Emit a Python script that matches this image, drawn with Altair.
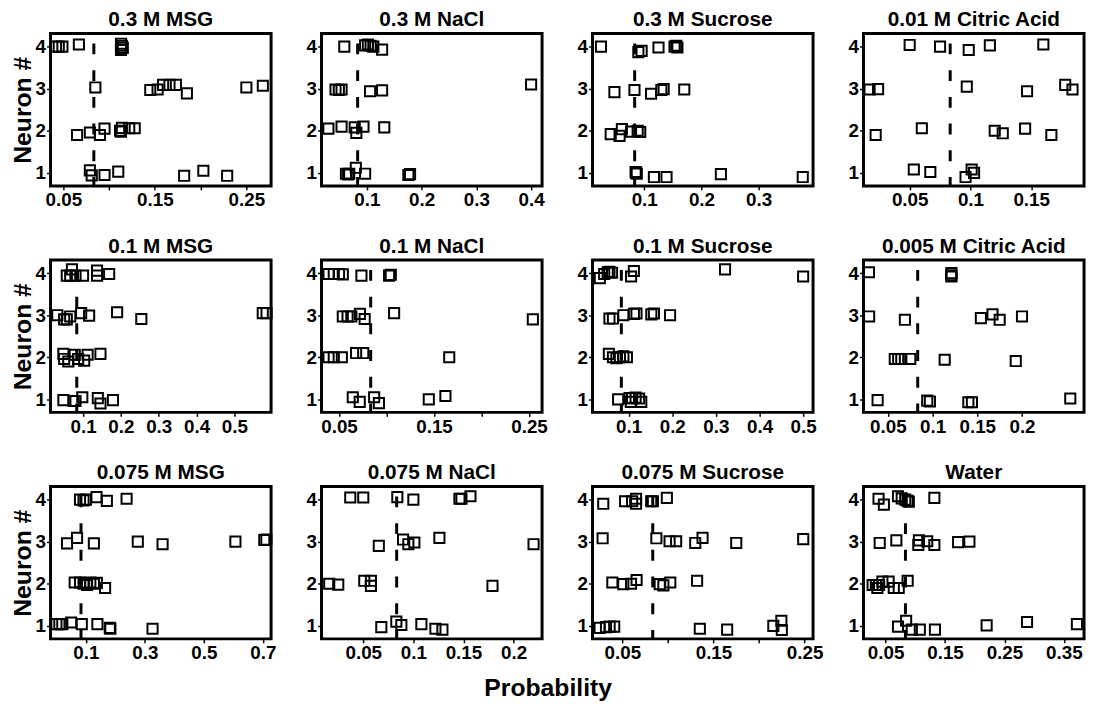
import altair as alt
import pandas as pd

FONT = "Liberation Sans"
CHANCE = [1 / 12]

titles = ["0.3 M MSG", "0.3 M NaCl", "0.3 M Sucrose", "0.01 M Citric Acid",
          "0.1 M MSG", "0.1 M NaCl", "0.1 M Sucrose", "0.005 M Citric Acid",
          "0.075 M MSG", "0.075 M NaCl", "0.075 M Sucrose", "Water"]

# ---- 0.3 M MSG
msg03_x = [0.042, 0.045, 0.049, 0.067, 0.113, 0.114, 0.115, 0.113,
           0.085, 0.145, 0.153, 0.159, 0.166, 0.173, 0.185, 0.250, 0.268,
           0.065, 0.079, 0.090, 0.095, 0.112, 0.113, 0.114, 0.122, 0.128,
           0.079, 0.081, 0.095, 0.110, 0.182, 0.203, 0.229]
msg03_y = [4.0, 4.0, 4.0, 4.05, 4.07, 4.02, 3.97, 3.92,
           3.03, 2.97, 2.98, 3.09, 3.09, 3.09, 2.89, 3.03, 3.07,
           1.90, 1.96, 1.90, 2.05, 2.00, 1.98, 2.07, 2.06, 2.06,
           1.06, 0.94, 0.95, 1.03, 0.93, 1.05, 0.93]
# ---- 0.3 M NaCl
nacl03_x = [0.059, 0.097, 0.102, 0.107, 0.112, 0.128,
            0.043, 0.049, 0.054, 0.106, 0.128, 0.400,
            0.030, 0.054, 0.078, 0.081, 0.094, 0.132,
            0.062, 0.066, 0.068, 0.080, 0.097, 0.176, 0.179]
nacl03_y = [4.0, 4.03, 4.05, 4.02, 4.0, 3.93,
            2.98, 2.97, 2.98, 2.94, 2.96, 3.10,
            2.05, 2.10, 2.08, 1.95, 2.10, 2.08,
            0.98, 0.96, 0.98, 1.12, 0.98, 0.95, 0.97]
# ---- 0.3 M Sucrose
suc03_x = [0.0245, 0.0898, 0.0955, 0.125, 0.153, 0.156, 0.158,
           0.048, 0.083, 0.112, 0.130, 0.134, 0.170,
           0.0415, 0.057, 0.061, 0.077, 0.0886, 0.093,
           0.085, 0.086, 0.087, 0.117, 0.139, 0.234, 0.377]
suc03_y = [4.0, 3.87, 3.90, 3.98, 4.0, 4.02, 3.98,
           2.92, 2.97, 2.88, 2.97, 2.99, 2.98,
           1.92, 1.88, 2.04, 1.98, 2.0, 1.97,
           1.02, 1.0, 0.98, 0.90, 0.90, 0.97, 0.90]
# ---- 0.01 M Citric Acid
cit01_x = [0.050, 0.075, 0.0986, 0.116, 0.160,
           0.017, 0.024, 0.097, 0.1466, 0.178, 0.184,
           0.022, 0.060, 0.120, 0.1266, 0.145, 0.1666,
           0.0534, 0.067, 0.096, 0.101, 0.103]
cit01_y = [4.04, 4.0, 3.92, 4.03, 4.05,
           2.98, 2.99, 3.05, 2.94, 3.09, 2.98,
           1.90, 2.06, 2.0, 1.94, 2.05, 1.90,
           1.08, 1.02, 0.90, 1.08, 1.0]
# ---- 0.1 M MSG
msg01_x = [0.0706, 0.057, 0.066, 0.080, 0.100, 0.137, 0.137, 0.169,
           0.032, 0.050, 0.057, 0.066, 0.095, 0.116, 0.190, 0.254, 0.575, 0.585,
           0.048, 0.050, 0.061, 0.078, 0.087, 0.103, 0.112, 0.146,
           0.048, 0.075, 0.080, 0.098, 0.139, 0.146, 0.179]
msg01_y = [4.09, 3.94, 3.94, 3.94, 3.94, 4.06, 3.94, 3.98,
           3.0, 2.90, 2.90, 2.97, 3.05, 2.99, 3.07, 2.91, 3.05, 3.05,
           2.08, 1.96, 1.90, 2.06, 1.96, 1.92, 2.06, 2.08,
           0.98, 0.96, 0.96, 1.05, 1.03, 0.90, 0.98]
# ---- 0.1 M NaCl
nacl01_x = [0.039, 0.0445, 0.050, 0.054, 0.0736, 0.1027, 0.1045,
            0.054, 0.059, 0.063, 0.072, 0.077, 0.108, 0.254,
            0.039, 0.0445, 0.053, 0.068, 0.0755, 0.166,
            0.0645, 0.0718, 0.087, 0.092, 0.1445, 0.162]
nacl01_y = [3.98, 3.98, 3.98, 3.97, 3.94, 3.94, 3.96,
            2.97, 2.97, 2.97, 3.03, 2.91, 3.05, 2.90,
            2.0, 2.0, 2.0, 2.10, 2.10, 2.0,
            1.05, 0.94, 1.05, 0.91, 1.0, 1.08]
# ---- 0.1 M Sucrose
suc01_x = [0.034, 0.044, 0.052, 0.056, 0.062, 0.1056, 0.112, 0.321, 0.500,
           0.056, 0.064, 0.088, 0.112, 0.118, 0.152, 0.158, 0.195,
           0.0547, 0.064, 0.072, 0.080, 0.088, 0.096,
           0.076, 0.102, 0.105, 0.108, 0.116, 0.124, 0.129]
suc01_y = [3.88, 3.98, 4.02, 4.03, 4.01, 3.92, 4.05, 4.09, 3.92,
           2.92, 2.92, 3.0, 3.03, 3.04, 3.02, 3.04, 3.0,
           2.08, 2.0, 1.98, 2.0, 2.02, 2.0,
           1.0, 1.03, 0.94, 1.03, 1.04, 1.02, 0.94]
# ---- 0.005 M Citric Acid
cit005_x = [0.0288, 0.121, 0.121, 0.121,
            0.029, 0.069, 0.154, 0.167, 0.175, 0.200,
            0.0577, 0.0615, 0.065, 0.075, 0.1135, 0.193,
            0.0385, 0.094, 0.097, 0.140, 0.144, 0.254]
cit005_y = [4.02, 4.0, 3.95, 3.92,
            2.97, 2.89, 2.93, 3.02, 2.89, 2.97,
            1.96, 1.96, 1.96, 1.96, 1.94, 1.91,
            0.98, 0.97, 0.95, 0.93, 0.93, 1.02]
# ---- 0.075 M MSG
msg0075_x = [0.080, 0.092, 0.100, 0.136, 0.171, 0.238,
             0.036, 0.070, 0.127, 0.276, 0.360, 0.607, 0.705, 0.712,
             0.062, 0.080, 0.092, 0.104, 0.115, 0.127, 0.137, 0.165,
             0.0, 0.010, 0.020, 0.050, 0.086, 0.139, 0.181, 0.183, 0.326]
msg0075_y = [4.0, 3.98, 4.0, 4.06, 3.97, 4.02,
             2.96, 3.09, 2.96, 3.0, 2.94, 3.0, 3.04, 3.05,
             2.03, 2.03, 2.0, 1.97, 2.03, 2.0, 2.02, 1.90,
             1.04, 1.04, 1.04, 1.08, 1.04, 1.04, 0.95, 0.93, 0.93]
# ---- 0.075 M NaCl
nacl0075_x = [0.037, 0.050, 0.084, 0.100, 0.146, 0.148, 0.157,
              0.0655, 0.0897, 0.095, 0.101, 0.126, 0.220,
              0.016, 0.025, 0.051, 0.0576, 0.0576, 0.179,
              0.068, 0.083, 0.088, 0.108, 0.122, 0.129]
nacl0075_y = [4.05, 4.05, 4.06, 4.0, 4.02, 4.02, 4.08,
              2.90, 3.05, 2.94, 2.98, 3.09, 2.94,
              2.0, 1.98, 2.07, 2.07, 1.95, 1.95,
              0.97, 1.10, 1.02, 1.04, 0.93, 0.91]
# ---- 0.075 M Sucrose
suc0075_x = [0.029, 0.053, 0.0607, 0.065, 0.065, 0.0816, 0.0835, 0.0988,
             0.0283, 0.0873, 0.1018, 0.109, 0.130, 0.138, 0.175, 0.2485,
             0.039, 0.051, 0.0595, 0.0656, 0.091, 0.095, 0.1026, 0.132,
             0.025, 0.032, 0.036, 0.041, 0.135, 0.165, 0.2157, 0.2245, 0.225]
suc0075_y = [3.90, 3.96, 3.96, 4.02, 3.90, 3.96, 3.96, 4.04,
             3.08, 3.08, 3.01, 3.01, 2.97, 3.09, 2.97, 3.06,
             2.03, 1.99, 2.0, 2.09, 1.99, 1.96, 2.03, 2.07,
             0.95, 0.97, 0.98, 0.98, 0.93, 0.91, 1.0, 1.12, 0.90]
# ---- Water
water_x = [0.038, 0.047, 0.0708, 0.077, 0.083, 0.087, 0.089, 0.132,
           0.040, 0.068, 0.106, 0.105, 0.120, 0.132, 0.172, 0.191,
           0.028, 0.0335, 0.039, 0.036, 0.0445, 0.055, 0.0637, 0.072, 0.087,
           0.0708, 0.0845, 0.094, 0.1075, 0.133, 0.220, 0.288, 0.372]
water_y = [4.02, 3.88, 4.08, 4.03, 4.0, 3.97, 3.95, 4.04,
           2.97, 3.03, 3.03, 2.92, 3.01, 2.92, 2.99, 3.0,
           1.97, 1.97, 1.97, 1.90, 2.05, 2.05, 1.90, 1.90, 2.07,
           0.98, 1.12, 0.91, 0.91, 0.91, 1.01, 1.09, 1.04]

xs = [msg03_x, nacl03_x, suc03_x, cit01_x, msg01_x, nacl01_x, suc01_x, cit005_x,
      msg0075_x, nacl0075_x, suc0075_x, water_x]
ys = [msg03_y, nacl03_y, suc03_y, cit01_y, msg01_y, nacl01_y, suc01_y, cit005_y,
      msg0075_y, nacl0075_y, suc0075_y, water_y]

# x-axis ranges, tick positions and labelled ticks per panel
x_domains = [[0.036, 0.277], [0.0174, 0.42], [0.0097, 0.395], [0.012, 0.1935],
             [0.014, 0.597], [0.0316, 0.2637], [0.0172, 0.5227], [0.0227, 0.2694],
             [-0.02, 0.728], [0.0083, 0.2285], [0.0172, 0.2593], [0.0127, 0.384]]
x_ticks = [[0.05, 0.1, 0.15, 0.2, 0.25], [0.1, 0.2, 0.3, 0.4], [0.1, 0.2, 0.3],
           [0.05, 0.1, 0.15],
           [0.1, 0.2, 0.3, 0.4, 0.5], [0.05, 0.1, 0.15, 0.2, 0.25],
           [0.1, 0.2, 0.3, 0.4, 0.5], [0.05, 0.1, 0.15, 0.2],
           [0.1, 0.2, 0.3, 0.4, 0.5, 0.6, 0.7], [0.05, 0.1, 0.15, 0.2],
           [0.05, 0.1, 0.15, 0.2, 0.25], [0.05, 0.1, 0.15, 0.2, 0.25, 0.3, 0.35]]
x_labels = [[0.05, 0.15, 0.25], [0.1, 0.2, 0.3, 0.4], [0.1, 0.2, 0.3],
            [0.05, 0.1, 0.15],
            [0.1, 0.2, 0.3, 0.4, 0.5], [0.05, 0.15, 0.25],
            [0.1, 0.2, 0.3, 0.4, 0.5], [0.05, 0.1, 0.15, 0.2],
            [0.1, 0.3, 0.5, 0.7], [0.05, 0.1, 0.15, 0.2],
            [0.05, 0.15, 0.25], [0.05, 0.15, 0.25, 0.35]]
y_ticks = [1, 2, 3, 4]
y_domain = [0.69, 4.31]

W, H = 223, 154

panels = []
for i in range(12):
    df = pd.DataFrame({"p": xs[i], "n": ys[i]})
    lab = ",".join(repr(v) for v in x_labels[i])
    xenc = alt.X("p:Q",
                 scale=alt.Scale(domain=x_domains[i], nice=False, zero=False),
                 axis=alt.Axis(values=x_ticks[i], format="~g",
                               labelExpr=f"indexof([{lab}], datum.value) >= 0 ? datum.label : ''",
                               title=None))
    if i % 4 == 0:
        yaxis = alt.Axis(values=y_ticks, title="Neuron #", titleFontSize=25,
                         titleFontWeight="bold", titleFont=FONT, titleColor="black",
                         titlePadding=0)
    else:
        yaxis = alt.Axis(values=y_ticks, title=None)
    yenc = alt.Y("n:Q", scale=alt.Scale(domain=y_domain, nice=False, zero=False), axis=yaxis)
    pts = alt.Chart(df).mark_point(shape="square", filled=False, size=105,
                                   strokeWidth=2, color="black", opacity=1).encode(x=xenc, y=yenc)
    rule = alt.Chart(pd.DataFrame({"p": CHANCE})).mark_rule(
        color="black", strokeWidth=3, strokeDash=[11, 16], strokeDashOffset=17
    ).encode(x="p:Q")
    panels.append(alt.layer(pts, rule).properties(title=titles[i], width=W, height=H))

chart = alt.concat(*panels, columns=4, spacing={"row": 75, "column": 51}).properties(
    bounds="flush",
    padding={"left": 0, "top": -4, "right": 0, "bottom": 0},
    title=alt.TitleParams("Probability", orient="bottom", anchor="middle",
                          fontSize=25, fontWeight="bold", font=FONT,
                          color="black", offset=12),
).configure_view(
    stroke="black", strokeWidth=3
).configure_axis(
    domain=False, grid=False, tickColor="black", tickWidth=1.5, tickSize=4,
    labelFont=FONT, labelFontSize=19, labelFontWeight="bold", labelColor="black",
    labelPadding=1
).configure_title(
    font=FONT, fontSize=21, fontWeight="bold", color="black", offset=2
)

chart.save("out.html", embed_options={"renderer": "svg", "actions": False})
